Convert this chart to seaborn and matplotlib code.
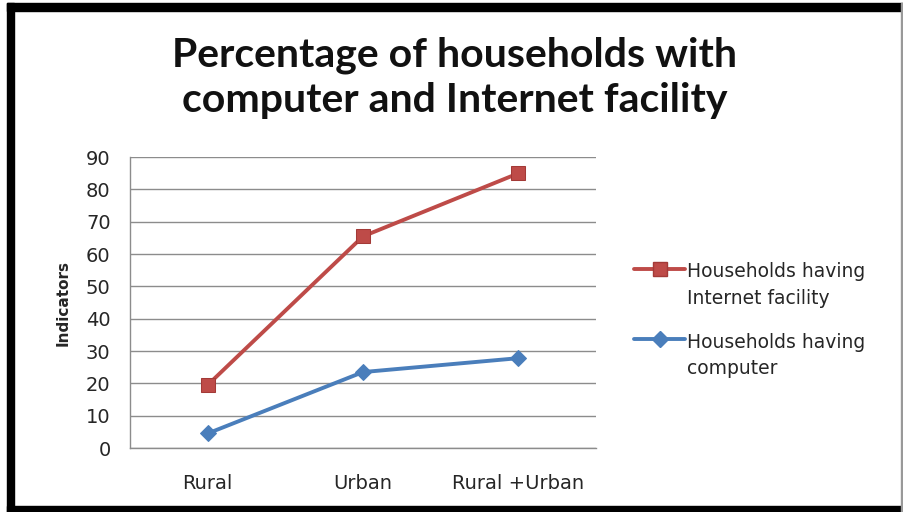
import matplotlib
matplotlib.use("Agg")
import matplotlib.pyplot as plt
import seaborn as sns
import pandas as pd
from matplotlib.patches import Rectangle
from matplotlib.lines import Line2D

categories = ["Rural", "Urban", "Rural +Urban"]
internet = [19.5, 65.5, 85.0]
computer = [4.5, 23.5, 27.8]
series_names = ["Households having\nInternet facility", "Households having\ncomputer"]
yticks = [0, 10, 20, 30, 40, 50, 60, 70, 80, 90]

sns.set_theme(style="white")
plt.rcParams['font.family'] = ['DejaVu Sans']

df = pd.DataFrame({
    "category": categories * 2,
    "value": internet + computer,
    "series": [series_names[0]] * 3 + [series_names[1]] * 3,
})

fig = plt.figure(figsize=(9.04, 5.12), dpi=100)
ax = fig.add_axes([130 / 904, 0.125, 466 / 904, 0.568])

red = "#BE4B48"
blue = "#4A7EBB"

sns.lineplot(data=df[df.series == series_names[0]], x="category", y="value", ax=ax,
             color=red, linewidth=2.8, marker="s", markersize=10,
             markeredgecolor="#A33A37", markerfacecolor=red, sort=False)
sns.lineplot(data=df[df.series == series_names[1]], x="category", y="value", ax=ax,
             color=blue, linewidth=2.8, marker="D", markersize=8,
             markeredgecolor=blue, markerfacecolor=blue, sort=False)

ax.set_xlim(-0.5, 2.5)
ax.set_ylim(0, 90)
ax.set_yticks(yticks)
ax.set_yticklabels([str(v) for v in yticks], fontsize=14, color="#262626")
ax.tick_params(axis="x", labelsize=14, labelcolor="#262626", length=0, pad=19)
ax.tick_params(axis="y", length=0, pad=14, left=False)
ax.yaxis.grid(True, color="#8c8c8c", linewidth=1)
ax.set_axisbelow(True)
for s in ["top", "right"]:
    ax.spines[s].set_visible(False)
for s in ["left", "bottom"]:
    ax.spines[s].set_color("#8c8c8c")
    ax.spines[s].set_linewidth(1)
ax.set_xlabel("")
ax.set_ylabel("Indicators", fontsize=11, fontweight="bold", labelpad=11)

handles = [
    Line2D([0], [0], color=red, linewidth=2.8, marker="s", markersize=10,
           markerfacecolor=red, markeredgecolor="#A33A37"),
    Line2D([0], [0], color=blue, linewidth=2.8, marker="D", markersize=8,
           markerfacecolor=blue, markeredgecolor=blue),
]
leg = fig.legend(handles, series_names, loc="upper left", bbox_to_anchor=(0.683, 0.521),
                 frameon=False, fontsize=13.5, handlelength=2.7, handletextpad=0.1,
                 labelspacing=1.33, labelcolor="#262626")
for t in leg.get_texts():
    t.set_linespacing(1.5)
try:
    for col in leg._legend_handle_box.get_children():
        for row in col.get_children():
            row.align = "top"
except Exception:
    pass

fig.text(0.503, 0.848, "Percentage of households with\ncomputer and Internet facility",
         ha="center", va="center", fontsize=29.5, fontweight="bold",
         family=["Lato", "DejaVu Sans"], linespacing=1.27, color="#111111")

# frame
fig.patches.append(Rectangle((7 / 904, 1 - 11 / 512), 897 / 904, 8 / 512,
                             transform=fig.transFigure, color="black", zorder=10))
fig.patches.append(Rectangle((7 / 904, 0), 7 / 904, 1 - 3 / 512,
                             transform=fig.transFigure, color="black", zorder=10))
fig.patches.append(Rectangle((7 / 904, 0), 897 / 904, 6 / 512,
                             transform=fig.transFigure, color="black", zorder=10))
fig.patches.append(Rectangle((901 / 904, 0), 2 / 904, 1 - 3 / 512,
                             transform=fig.transFigure, color="#999999", zorder=10))

fig.savefig("out.png", dpi=100)
